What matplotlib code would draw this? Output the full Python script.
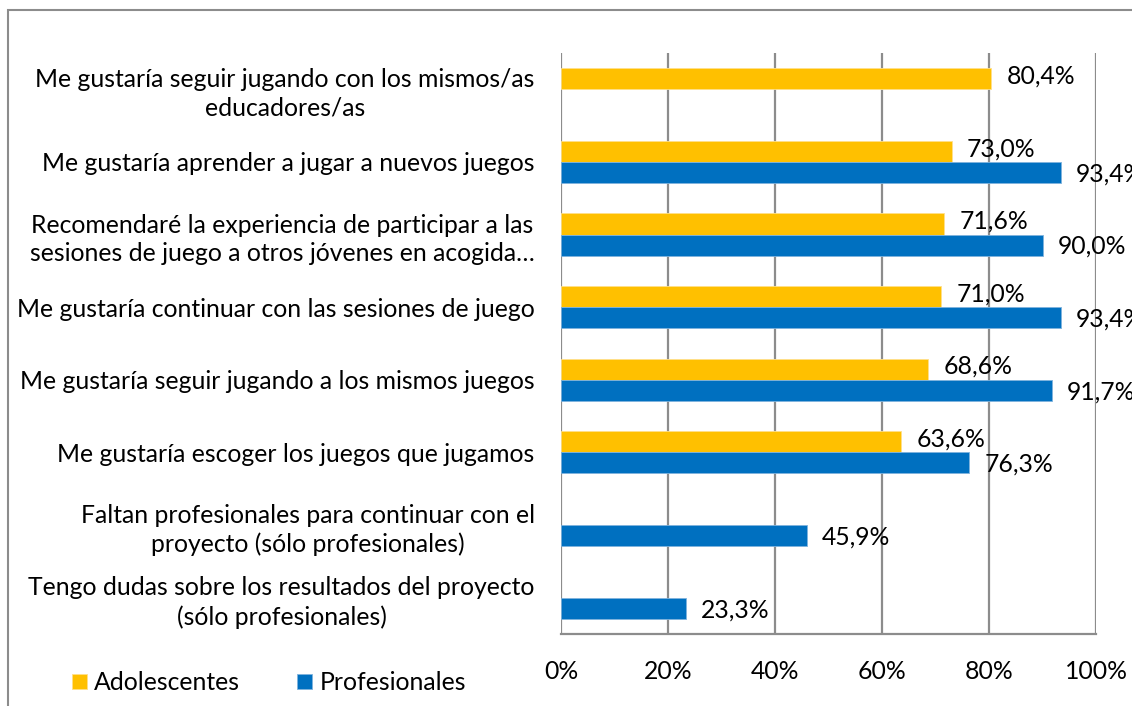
import numpy as np
import matplotlib
matplotlib.use("Agg")
import matplotlib.pyplot as plt
from matplotlib.patches import Rectangle

plt.rcParams['font.family'] = ['Lato', 'DejaVu Sans']

categories = [
    "Me gustaría seguir jugando con los mismos/as\neducadores/as",
    "Me gustaría aprender a jugar a nuevos juegos",
    "Recomendaré la experiencia de participar a las\nsesiones de juego a otros jóvenes en acogida…",
    "Me gustaría continuar con las sesiones de juego",
    "Me gustaría seguir jugando a los mismos juegos",
    "Me gustaría escoger los juegos que jugamos",
    "Faltan profesionales para continuar con el\nproyecto (sólo profesionales)",
    "Tengo dudas sobre los resultados del proyecto\n(sólo profesionales)",
]
adolescentes = [80.4, 73.0, 71.6, 71.0, 68.6, 63.6, np.nan, np.nan]
profesionales = [np.nan, 93.4, 90.0, 93.4, 91.7, 76.3, 45.9, 23.3]
xticks = [0, 20, 40, 60, 80, 100]

yellow = "#FFC000"
blue = "#0070C0"
grid = "#8C8C8C"
fs = 17.8

fig = plt.figure(figsize=(11.32, 7.06), dpi=100)
# outer chart frame (only top and left edges are visible)
fig.patches.append(Rectangle((0.007, -0.1), 1.1, 1.086, transform=fig.transFigure,
                             fill=False, edgecolor="#8C8C8C", lw=1.5))
ax = fig.add_axes([0.4956, 0.102, 0.4726, 0.823])

y = np.arange(len(categories))
h = 0.29
ax.barh(y - h / 2, adolescentes, height=h, color=yellow, edgecolor="#FFE08A", lw=0.6,
        label="Adolescentes", zorder=3)
ax.barh(y + h / 2, profesionales, height=h, color=blue, edgecolor="#7FB3DD", lw=0.6,
        label="Profesionales", zorder=3)

for i, (a, p) in enumerate(zip(adolescentes, profesionales)):
    if not np.isnan(a):
        ax.annotate(f"{a:.1f}%".replace(".", ","), (a, i - h / 2), xytext=(11, 2),
                    textcoords="offset points", ha="left", va="center", fontsize=fs, zorder=4)
    if not np.isnan(p):
        ax.annotate(f"{p:.1f}%".replace(".", ","), (p, i + h / 2), xytext=(11, -1),
                    textcoords="offset points", ha="left", va="center", fontsize=fs, zorder=4,
                    annotation_clip=False)

ax.set_ylim(len(categories) - 0.5, -0.5)
ax.set_xlim(0, 100)
ax.set_xticks(xticks)
ax.set_xticklabels([f"{t}%" for t in xticks], fontsize=fs)
ax.set_yticks(y)
ax.set_yticklabels(categories, fontsize=fs, multialignment="center", linespacing=1.3)
ax.tick_params(axis="x", length=0, pad=19)
ax.tick_params(axis="y", length=0, pad=19)
ax.xaxis.grid(True, color=grid, lw=1.6, zorder=0)
for s in ["top", "right", "left"]:
    ax.spines[s].set_visible(False)
ax.spines["bottom"].set_color(grid)
ax.spines["bottom"].set_linewidth(1.6)

leg = fig.legend(loc="center left", bbox_to_anchor=(0.0636, 0.033), ncol=2, frameon=False,
                 fontsize=fs, handlelength=0.6, handleheight=0.6, handletextpad=0.3,
                 columnspacing=2.3, borderpad=0, borderaxespad=0)

fig.savefig("out.png", dpi=100)
